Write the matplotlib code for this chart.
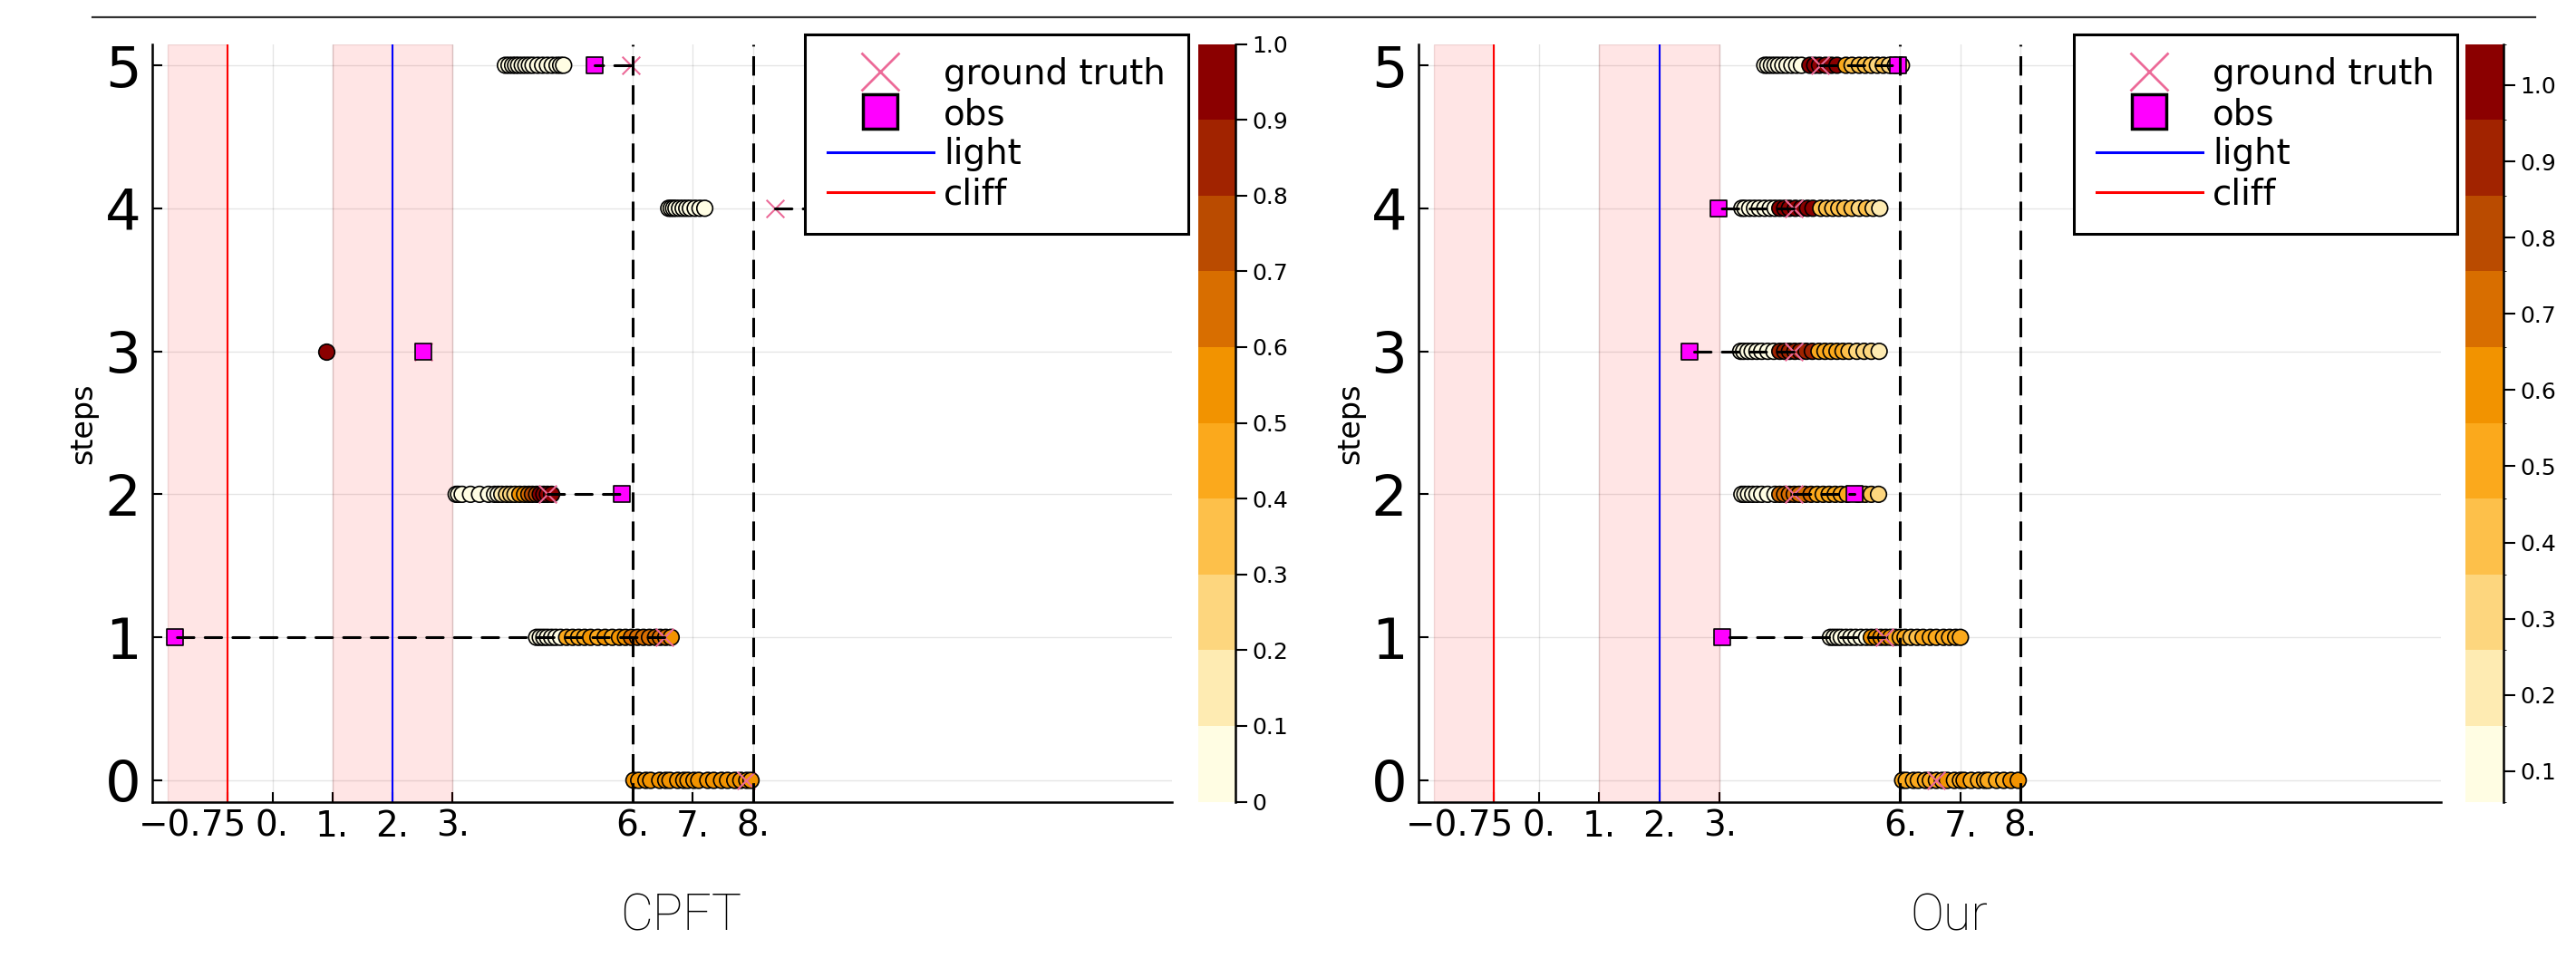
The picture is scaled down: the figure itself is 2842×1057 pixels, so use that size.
import numpy as np
import matplotlib
matplotlib.use('Agg')
import matplotlib.pyplot as plt
import matplotlib.transforms as mtransforms
from matplotlib.colors import ListedColormap, BoundaryNorm
from matplotlib.cm import ScalarMappable
from matplotlib.lines import Line2D

plt.rcParams['font.family'] = ['DejaVu Sans']

W, H = 2842, 1057

steps = [0, 1, 2, 3, 4, 5]

# ---- CPFT: particle positions / weights per step
cpft_x0 = [6.02, 6.1, 6.22, 6.3, 6.45, 6.55, 6.62, 6.75, 6.85, 6.92, 7.02, 7.1, 7.25, 7.35, 7.48, 7.58, 7.7, 7.8, 7.9, 7.97]
cpft_w0 = [0.55, 0.55, 0.56, 0.55, 0.54, 0.55, 0.56, 0.55, 0.55, 0.54, 0.55, 0.56, 0.55, 0.55, 0.54, 0.55, 0.56, 0.55, 0.55, 0.55]
cpft_x1 = [4.4, 4.46, 4.52, 4.58, 4.65, 4.72, 4.8, 4.9, 5.0, 5.1, 5.2, 5.3, 5.42, 5.54, 5.66, 5.78, 5.88, 5.98, 6.08, 6.18, 6.28, 6.38, 6.46, 6.55, 6.64]
cpft_w1 = [0.03, 0.03, 0.04, 0.04, 0.05, 0.06, 0.08, 0.42, 0.45, 0.44, 0.47, 0.52, 0.46, 0.55, 0.48, 0.56, 0.58, 0.62, 0.65, 0.66, 0.68, 0.65, 0.67, 0.64, 0.56]
cpft_x2 = [3.06, 3.1, 3.16, 3.3, 3.45, 3.6, 3.7, 3.76, 3.82, 3.9, 3.97, 4.04, 4.12, 4.2, 4.27, 4.33, 4.4, 4.46, 4.52, 4.58, 4.65]
cpft_w2 = [0.02, 0.03, 0.03, 0.04, 0.04, 0.05, 0.06, 0.08, 0.12, 0.25, 0.28, 0.27, 0.55, 0.52, 0.65, 0.72, 0.78, 0.92, 0.96, 0.98, 0.97]
cpft_x3 = [0.9]
cpft_w3 = [0.98]
cpft_x4 = [6.6, 6.64, 6.68, 6.72, 6.78, 6.84, 6.9, 6.96, 7.04, 7.12, 7.2]
cpft_w4 = [0.02, 0.03, 0.02, 0.03, 0.04, 0.03, 0.02, 0.04, 0.03, 0.02, 0.03]
cpft_x5 = [3.88, 3.94, 4.0, 4.05, 4.1, 4.16, 4.22, 4.28, 4.34, 4.42, 4.5, 4.58, 4.66, 4.74, 4.8, 4.85]
cpft_w5 = [0.02, 0.03, 0.02, 0.03, 0.04, 0.03, 0.02, 0.04, 0.03, 0.02, 0.03, 0.04, 0.02, 0.03, 0.02, 0.03]
cpft_gt = [7.88, 6.53, 4.58, 2.52, 8.37, 5.97]
cpft_obs_steps = [1, 2, 3, 4, 5]
cpft_obs = [-1.63, 5.82, 2.52, 9.8, 5.37]

# ---- Our method
our_x0 = [6.04, 6.1, 6.22, 6.3, 6.42, 6.5, 6.6, 6.7, 6.78, 6.9, 7.0, 7.06, 7.18, 7.3, 7.4, 7.46, 7.6, 7.72, 7.84, 7.96]
our_w0 = [0.5, 0.5, 0.5, 0.52, 0.5, 0.5, 0.5, 0.5, 0.6, 0.5, 0.52, 0.62, 0.5, 0.5, 0.5, 0.5, 0.52, 0.5, 0.62, 0.6]
our_x1 = [4.84, 4.9, 4.96, 5.02, 5.1, 5.18, 5.26, 5.35, 5.44, 5.52, 5.6, 5.68, 5.76, 5.84, 5.92, 6.0, 6.08, 6.18, 6.28, 6.38, 6.5, 6.6, 6.72, 6.82, 6.92, 7.0]
our_w1 = [0.1, 0.1, 0.1, 0.1, 0.1, 0.1, 0.12, 0.12, 0.15, 0.6, 0.62, 0.6, 0.62, 0.6, 0.5, 0.5, 0.5, 0.4, 0.42, 0.5, 0.5, 0.52, 0.5, 0.5, 0.55, 0.5]
our_x2 = [3.37, 3.42, 3.48, 3.55, 3.62, 3.7, 3.8, 3.92, 4.0, 4.08, 4.16, 4.24, 4.32, 4.42, 4.52, 4.62, 4.72, 4.82, 4.92, 5.02, 5.12, 5.3, 5.42, 5.52, 5.64]
our_w2 = [0.1, 0.1, 0.1, 0.1, 0.1, 0.1, 0.1, 0.1, 0.7, 0.7, 0.7, 0.7, 0.7, 0.7, 0.7, 0.5, 0.5, 0.5, 0.5, 0.5, 0.5, 0.4, 0.45, 0.4, 0.3]
our_x3 = [3.35, 3.4, 3.47, 3.54, 3.62, 3.7, 3.8, 3.9, 4.0, 4.08, 4.16, 4.25, 4.34, 4.44, 4.54, 4.65, 4.75, 4.85, 4.95, 5.05, 5.15, 5.28, 5.4, 5.52, 5.65]
our_w3 = [0.1, 0.1, 0.1, 0.1, 0.1, 0.1, 0.1, 0.1, 0.9, 0.9, 0.9, 0.9, 0.9, 0.9, 0.9, 0.5, 0.5, 0.5, 0.5, 0.5, 0.4, 0.3, 0.3, 0.3, 0.2]
our_x4 = [3.37, 3.42, 3.5, 3.58, 3.66, 3.75, 3.84, 3.92, 4.0, 4.08, 4.16, 4.26, 4.36, 4.46, 4.55, 4.68, 4.78, 4.88, 4.98, 5.08, 5.2, 5.32, 5.44, 5.55, 5.66]
our_w4 = [0.1, 0.1, 0.1, 0.1, 0.1, 0.1, 0.1, 0.1, 1.0, 1.0, 1.0, 1.0, 1.0, 1.0, 1.0, 0.4, 0.4, 0.4, 0.4, 0.4, 0.4, 0.3, 0.4, 0.3, 0.2]
our_x5 = [3.75, 3.8, 3.86, 3.92, 3.98, 4.05, 4.12, 4.2, 4.28, 4.36, 4.5, 4.58, 4.66, 4.76, 4.86, 4.95, 5.1, 5.2, 5.32, 5.42, 5.52, 5.62, 5.72, 5.82, 5.92, 6.02]
our_w5 = [0.1, 0.1, 0.1, 0.1, 0.1, 0.1, 0.1, 0.1, 0.1, 0.1, 1.0, 1.0, 1.0, 1.0, 1.0, 1.0, 0.5, 0.4, 0.4, 0.4, 0.4, 0.3, 0.4, 0.3, 0.3, 0.3]
our_gt = [6.6, 5.74, 4.23, 4.23, 4.23, 4.67]
our_obs_steps = [1, 2, 3, 4, 5]
our_obs = [3.04, 5.24, 2.5, 2.98, 5.97]

# ---- shared scene elements
xticks = [-0.75, 0, 1, 2, 3, 6, 7, 8]
xticklabels = ['\u22120.75', '0.', '1.', '2.', '3.', '6.', '7.', '8.']
shade_spans = [(-1.75, -0.75), (1.0, 3.0)]
light_x = 2.0
cliff_x = -0.75
goal_x = [6.0, 8.0]

bin_colors = ['#FFFDE3', '#FEEBB2', '#FDD67E', '#FDC04A', '#FBA91C',
              '#F29300', '#D86E00', '#BA4B00', '#A12300', '#8B0000']
cmap = ListedColormap(bin_colors)
cpft_levels = np.linspace(0.0, 1.0, 11)
our_levels = np.linspace(0.06, 1.054, 11)
cpft_cticks = [0, 0.1, 0.2, 0.3, 0.4, 0.5, 0.6, 0.7, 0.8, 0.9, 1.0]
cpft_clabels = ['0', '0.1', '0.2', '0.3', '0.4', '0.5', '0.6', '0.7', '0.8', '0.9', '1.0']
our_cticks = [0.1, 0.2, 0.3, 0.4, 0.5, 0.6, 0.7, 0.8, 0.9, 1.0]
our_clabels = ['0.1', '0.2', '0.3', '0.4', '0.5', '0.6', '0.7', '0.8', '0.9', '1.0']

gt_color = '#EC6A98'


def px_box(x0, y0, x1, y1):
    return [x0 / W, 1 - y1 / H, (x1 - x0) / W, (y1 - y0) / H]


def draw_panel(ax, cax, xs, ws, gt, obs_steps, obs, levels, cticks, clabels):
    norm = BoundaryNorm(levels, cmap.N)
    for a, b in shade_spans:
        ax.axvspan(a, b, facecolor=(1, 0, 0, 0.1), edgecolor=(0.5, 0, 0, 0.12), lw=1, zorder=1)
    ax.axvline(light_x, color='blue', lw=1.5, zorder=2)
    ax.axvline(cliff_x, color='red', lw=1.5, zorder=2)

    for s in steps:
        ax.scatter(xs[s], [s] * len(xs[s]), c=ws[s], cmap=cmap, norm=norm, s=160,
                   edgecolors='black', linewidths=1.2, zorder=3)
    ax.scatter(gt, steps, marker='x', s=200, c=gt_color, linewidths=1.5, zorder=4)
    ax.scatter(obs, obs_steps, marker='s', s=180, facecolor='#FF00FF',
               edgecolor='black', linewidths=1.2, zorder=5)
    for s, o in zip(obs_steps, obs):
        ax.plot([gt[s], o], [s, s], color='black', lw=2.2, ls=(0, (6, 4)),
                dash_capstyle='round', zorder=6)
    for g in goal_x:
        ax.axvline(g, color='black', lw=2.2, ls=(0, (7, 3.5)), zorder=7)

    ax.set_xlim(-2.0, 14.98)
    ax.set_ylim(-0.149, 5.149)
    ax.set_xticks(xticks)
    ax.set_xticklabels(xticklabels, fontsize=28)
    ax.set_yticks(steps)
    ax.set_yticklabels([str(s) for s in steps], fontsize=45)
    ax.tick_params(direction='in', length=8, width=1.5, pad=6)
    ax.tick_params(axis='y', pad=9)
    # the "-0.75" label sits left of its tick in the original
    lab = ax.get_xticklabels()[0]
    lab.set_transform(lab.get_transform() +
                      mtransforms.ScaledTranslation(-0.38, 0, ax.figure.dpi_scale_trans))
    ax.grid(True, color='black', alpha=0.1, lw=1, zorder=0)
    ax.set_axisbelow(True)
    for side in ['top', 'right']:
        ax.spines[side].set_visible(False)
    for side in ['left', 'bottom']:
        ax.spines[side].set_linewidth(1.8)

    handles = [
        Line2D([], [], ls='none', marker='x', ms=30, mew=2, color=gt_color),
        Line2D([], [], ls='none', marker='s', ms=28, mfc='#FF00FF', mec='black', mew=2.5),
        Line2D([], [], color='blue', lw=2.2),
        Line2D([], [], color='red', lw=2.2),
    ]
    bb = ax.get_position()
    lx = bb.x1 - 405 / W
    leg = ax.legend(handles, ['ground truth', 'obs', 'light', 'cliff'],
                    loc='upper left', bbox_to_anchor=(lx, 1 - 38 / H),
                    bbox_transform=ax.figure.transFigure, borderaxespad=0,
                    fontsize=28, borderpad=0.64, labelspacing=0.16,
                    handlelength=3, handletextpad=0.3, fancybox=False,
                    framealpha=1, edgecolor='black')
    leg.get_frame().set_linewidth(2.2)
    leg.set_zorder(20)

    cb = ax.figure.colorbar(ScalarMappable(norm=norm, cmap=cmap), cax=cax)
    cb.outline.set_visible(False)
    cb.set_ticks(cticks)
    cb.set_ticklabels(clabels)
    cax.tick_params(direction='out', length=9, width=1.5, labelsize=18, pad=4)
    cax.add_line(Line2D([1, 1], [0, 1], transform=cax.transAxes, color='black',
                        lw=1.8, clip_on=False))


fig = plt.figure(figsize=(W / 100, H / 100), dpi=100)

ax1 = fig.add_axes(px_box(168, 48.5, 1293, 884.5))
cax1 = fig.add_axes(px_box(1322, 48.5, 1363, 884.5))
ax2 = fig.add_axes(px_box(1565, 48.5, 2693, 884.5))
cax2 = fig.add_axes(px_box(2720, 48.5, 2762, 884.5))

draw_panel(ax1, cax1,
           [cpft_x0, cpft_x1, cpft_x2, cpft_x3, cpft_x4, cpft_x5],
           [cpft_w0, cpft_w1, cpft_w2, cpft_w3, cpft_w4, cpft_w5],
           cpft_gt, cpft_obs_steps, cpft_obs, cpft_levels, cpft_cticks, cpft_clabels)
draw_panel(ax2, cax2,
           [our_x0, our_x1, our_x2, our_x3, our_x4, our_x5],
           [our_w0, our_w1, our_w2, our_w3, our_w4, our_w5],
           our_gt, our_obs_steps, our_obs, our_levels, our_cticks, our_clabels)

# axis labels and panel titles
fig.text(92 / W, 1 - 467 / H, 'steps', rotation=90, ha='center', va='center', fontsize=24)
fig.text(1490 / W, 1 - 467 / H, 'steps', rotation=90, ha='center', va='center', fontsize=24)
fig.text(751 / W, 1 - 1011 / H, 'CPFT', ha='center', va='center', fontsize=40,
         family=['Roboto', 'DejaVu Sans'], fontweight='light')
fig.text(2150 / W, 1 - 1011 / H, 'Our', ha='center', va='center', fontsize=40,
         family=['Roboto', 'DejaVu Sans'], fontweight='light')

# top rule
fig.add_artist(Line2D([102 / W, 2797 / W], [1 - 19 / H, 1 - 19 / H], color='#333333', lw=1.6))

fig.savefig('out.png', dpi=100)
